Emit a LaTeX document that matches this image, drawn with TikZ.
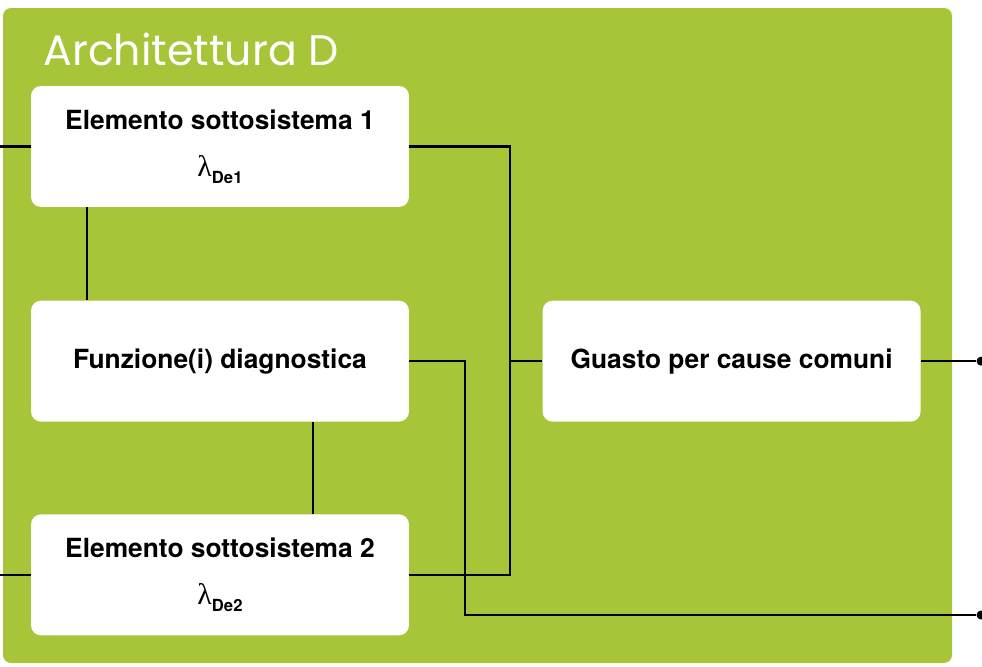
\documentclass[tikz,border=0pt]{standalone}
\usepackage{fontspec}
\setmainfont{TeX Gyre Heros}
\newfontfamily\titlefont{Poppins}
\newfontfamily\lamfont{Liberation Serif}
\usetikzlibrary{positioning}
\definecolor{archgreen}{RGB}{167,197,57}
\tikzset{
  box/.style={draw=none,fill=white,rounded corners=0.2cm,minimum width=7.56cm,minimum height=2.42cm,align=center,font=\fontsize{15}{18}\selectfont\bfseries},
  wire/.style={line width=1.4pt,black},
  dot/.style={circle,fill=black,inner sep=0pt,minimum size=0.18cm},
  ttl/.style={font=\titlefont\fontsize{24.3}{29}\selectfont,text=white,anchor=base west,inner sep=0pt}
}
\newcommand{\lamsub}[1]{{\lamfont\mdseries\fontsize{17}{18}\selectfont λ}\raisebox{-4pt}{\fontsize{9.5}{10}\selectfont #1}}
\begin{document}
\begin{tikzpicture}[x=0.02cm,y=-0.02cm]
  \useasboundingbox (0,0) rectangle (982,666);
  \fill[archgreen,rounded corners=0.16cm] (3,8) rectangle (952,663);
  \node[ttl] (title) at (43,65) {Architettura D};

  \node[box] (el1) at (220,146.5) {Elemento sottosistema 1\\[9pt]\lamsub{De1}};
  \node[box, below=1.86cm of el1] (diag) {Funzione(i) diagnostica};
  \node[box, below=1.84cm of diag] (el2) {Elemento sottosistema 2\\[9pt]\lamsub{De2}};
  \node[box, right=2.66cm of diag] (ccf) {Guasto per cause comuni};

  \coordinate (in1) at (el1.west -| 0,0);
  \coordinate (in2) at (el2.west -| 0,0);
  \coordinate (bus) at (diag.east -| 510,0);
  \coordinate (turn) at (465,615);
  \node[dot] (out1) at (ccf.east -| 981,0) {};
  \node[dot] (out2) at (981,615) {};

  \draw[wire] (in1) -- (el1.west);
  \draw[wire] (in2) -- (el2.west);
  \draw[wire] ([xshift=-2.66cm]el1.south) -- ([xshift=-2.66cm]diag.north);
  \draw[wire] ([xshift=1.86cm]diag.south) -- ([xshift=1.86cm]el2.north);
  \draw[wire] (el1.east) -| (bus) |- (el2.east);
  \draw[wire] (bus) -- (ccf.west);
  \draw[wire] (diag.east) -| (turn) -- (out2);
  \draw[wire] (ccf.east) -- (out1);
\end{tikzpicture}
\end{document}
